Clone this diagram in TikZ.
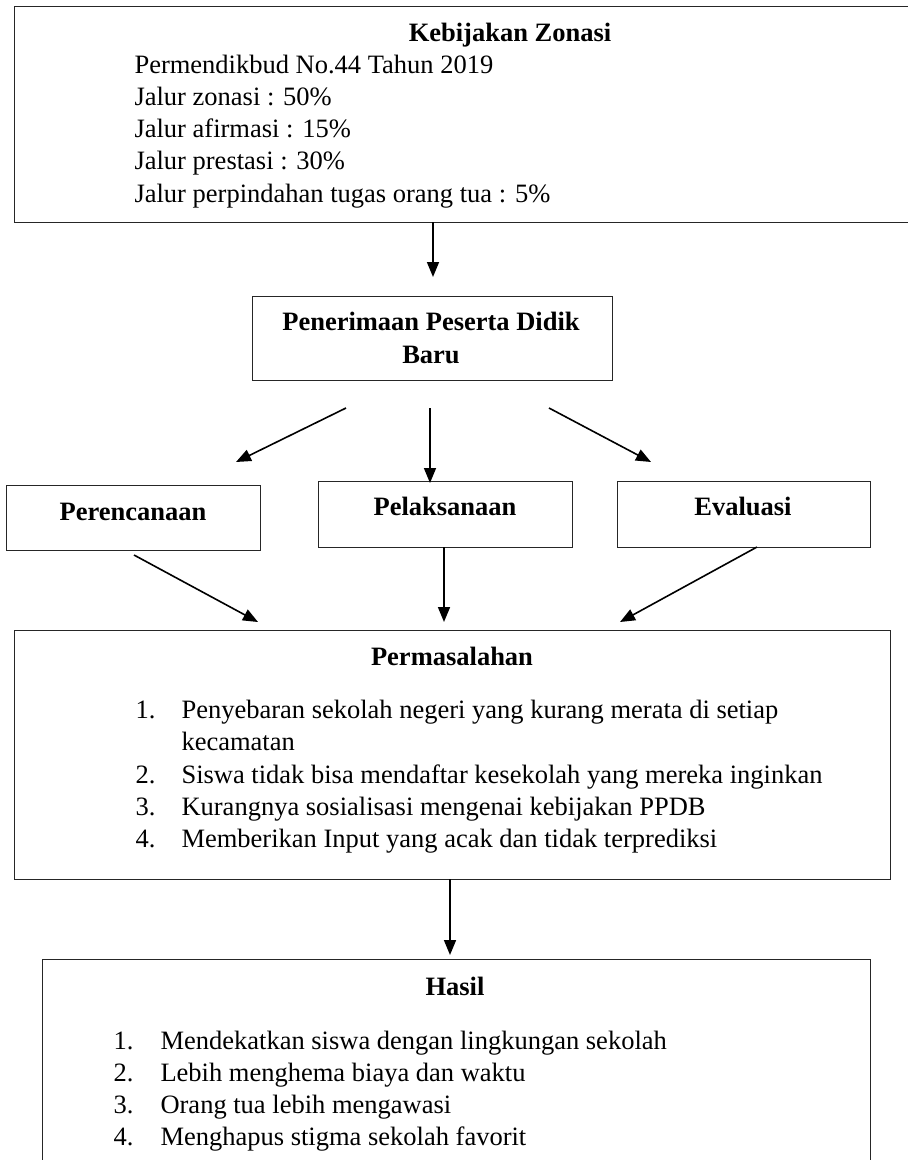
\documentclass[tikz,border=0pt]{standalone}
\usepackage{fontspec}
\setmainfont{Liberation Serif}
\usetikzlibrary{arrows.meta}
\newcommand{\hurufku}{\fontsize{26.5}{32.5}\selectfont}
\tikzset{
  kotak/.style={draw=black!85,line width=1pt,rectangle,inner sep=0pt,anchor=north west},
  judul/.style={font=\hurufku\bfseries,anchor=base},
  baris/.style={anchor=base west},
  panah/.style={-{Triangle[length=15pt,width=12pt]},line width=1.6pt},
}

\begin{document}
\begin{tikzpicture}[x=1pt,y=-1pt,font=\hurufku]
\useasboundingbox (0,0) rectangle (908,1160);

% kotak-kotak
\node[kotak,minimum width=992pt,minimum height=216pt] (zonasi) at (14,6) {};
\node[kotak,minimum width=360pt,minimum height=84pt] (ppdb) at (252,296) {};
\node[kotak,minimum width=254pt,minimum height=65pt] (rencana) at (6,485) {};
\node[kotak,minimum width=254pt,minimum height=66pt] (laksana) at (318,481) {};
\node[kotak,minimum width=253pt,minimum height=66pt] (evaluasi) at (617,481) {};
\node[kotak,minimum width=876pt,minimum height=249pt] (masalah) at (14,630) {};
\node[kotak,minimum width=828pt,minimum height=240pt] (hasil) at (42,959) {};

% judul
\node[judul] (zonasiT) at (510,41) {Kebijakan Zonasi};
\node[judul] (ppdbT1) at (431,330) {Penerimaan Peserta Didik};
\node[judul] (ppdbT2) at (431,363) {Baru};
\node[judul] (rencanaT) at (133,520) {Perencanaan};
\node[judul] (laksanaT) at (445,515) {Pelaksanaan};
\node[judul] (evaluasiT) at (743,515) {Evaluasi};
\node[judul] (masalahT) at (452,665) {Permasalahan};
\node[judul] (hasilT) at (455,995) {Hasil};

% isi kebijakan
\foreach \teks [count=\i from 0] in {Permendikbud No.44 Tahun 2019, Jalur zonasi : 50\%,
    Jalur afirmasi : 15\%, Jalur prestasi : 30\%, Jalur perpindahan tugas orang tua : 5\%}
  \node[baris] (zon\i) at (131,73+\i*32.3) {\teks};

% daftar permasalahan
\foreach \n/\y/\teks [count=\i] in {1./718/Penyebaran sekolah negeri yang kurang merata di setiap,
    /750.5/kecamatan, 2./783/Siswa tidak bisa mendaftar kesekolah yang mereka inginkan,
    3./815/Kurangnya sosialisasi mengenai kebijakan PPDB,
    4./847/Memberikan Input yang acak dan tidak terprediksi}{
  \node[baris] (mN\i) at (132,\y) {\n};
  \node[baris] (mT\i) at (178,\y) {\teks};
}

% daftar hasil
\foreach \teks [count=\i] in {Mendekatkan siswa dengan lingkungan sekolah, Lebih menghema biaya dan waktu,
    Orang tua lebih mengawasi, Menghapus stigma sekolah favorit}{
  \node[baris] (hN\i) at (110,1017+\i*32) {\i.};
  \node[baris] (hT\i) at (157,1017+\i*32) {\teks};
}

% ujung panah
\coordinate (z1) at (433,222);  \coordinate (z2) at (433,277);
\coordinate (p1) at (346,408);  \coordinate (p2) at (236,462);
\coordinate (p3) at (430,408);  \coordinate (p4) at (430,483);
\coordinate (p5) at (549,408);  \coordinate (p6) at (651,462);
\coordinate (r1) at (134,555);  \coordinate (r2) at (258,622);
\coordinate (l1) at (444,547);  \coordinate (l2) at (444,622);
\coordinate (e1) at (757,547);  \coordinate (e2) at (620,622);
\coordinate (m1) at (450,879);  \coordinate (m2) at (450,955);

\draw[panah] (z1) -- (z2);
\draw[panah] (p1) -- (p2);
\draw[panah] (p3) -- (p4);
\draw[panah] (p5) -- (p6);
\draw[panah] (r1) -- (r2);
\draw[panah] (l1) -- (l2);
\draw[panah] (e1) -- (e2);
\draw[panah] (m1) -- (m2);
\end{tikzpicture}
\end{document}
